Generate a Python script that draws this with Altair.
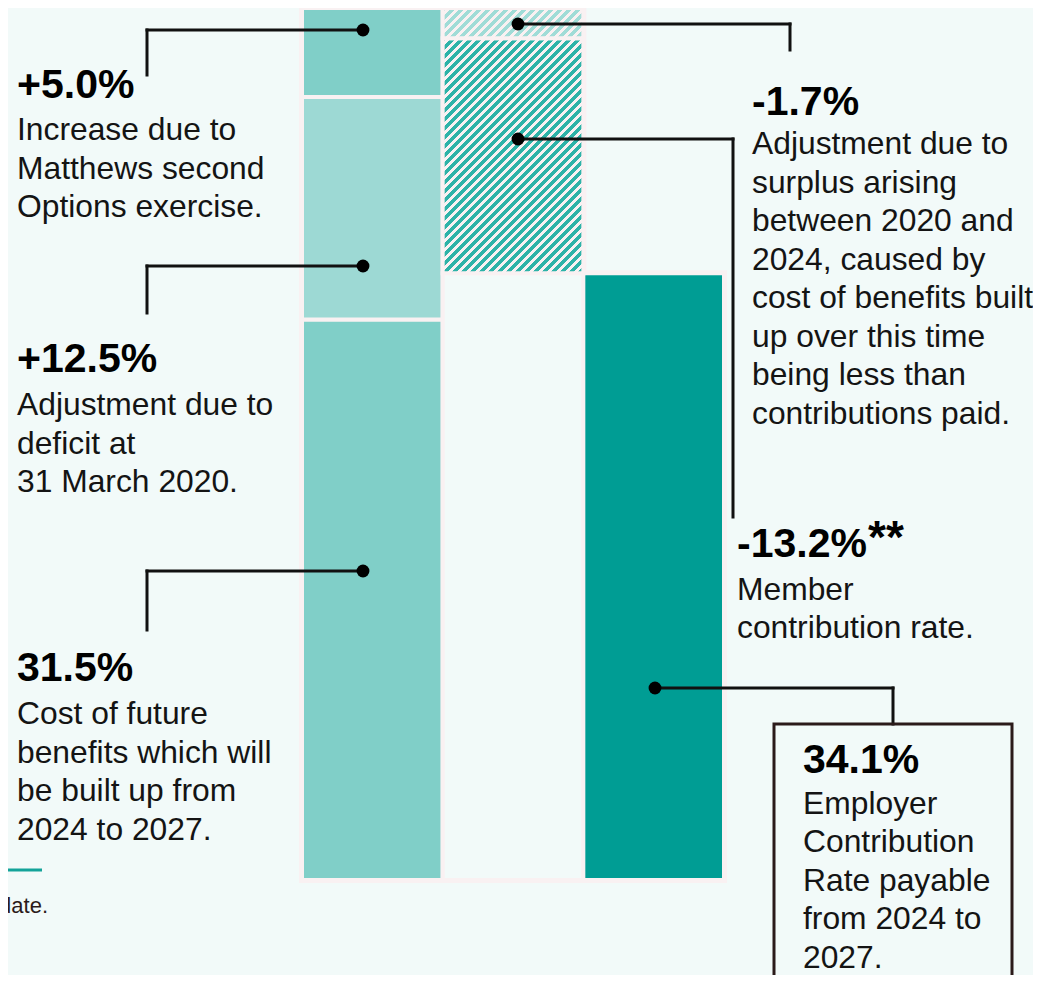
import altair as alt
import pandas as pd

# ---------------- data ----------------
columns = ["Build-up", "Adjustments", "Employer"]
build_values = [31.5, 12.5, 5.0]          # stacked upward in the first column
build_kinds = ["cost", "deficit", "matthews"]
adjust_values = [-1.7, -13.2]             # stepping down in the second column
adjust_kinds = ["surplus", "member"]
employer_value = 34.1

# ---------------- styles / layout ----------------
BG = "#f2faf9"
PANEL = "#f9f1f2"
FONT = "Liberation Sans, Arial, sans-serif"
W, H = 422, 872
PAD = {"left": 294, "top": 0, "right": 309, "bottom": 95}

rows = []
run = 0.0
for v, k in zip(build_values, build_kinds):
    rows.append({"column": columns[0], "y0": run, "y1": run + v, "kind": k})
    run += v
total = run
for v, k in zip(adjust_values, adjust_kinds):
    rows.append({"column": columns[1], "y0": run, "y1": run + v, "kind": k})
    run += v
rows.append({"column": columns[1], "y0": 0.0, "y1": run, "kind": "base"})
rows.append({"column": columns[2], "y0": 0.0, "y1": employer_value, "kind": "employer"})
bars = pd.DataFrame(rows)

px_per = H / total
band_w = W / len(columns)


def hatch(value, stripe, period=9.0, sw=4.6):
    w = band_w
    h = abs(value) * px_per
    L = w + h
    s = L / (w * w + h * h)
    stops = []
    k = 0
    while k * period < L:
        a = k * period / L
        b = min((k * period + sw) / L, 1.0)
        c = min((k + 1) * period / L, 1.0)
        stops += [(a, stripe), (b, stripe), (b, PANEL), (c, PANEL)]
        k += 1
    return alt.LinearGradient(
        gradient="linear",
        stops=[alt.GradientStop(offset=o, color=col) for o, col in stops],
        x1=0, y1=0, x2=s * w, y2=s * h,
    )


xenc = alt.X("column:N", scale=alt.Scale(domain=columns, paddingInner=0, paddingOuter=0), axis=None)
yenc = alt.Y("y0:Q", scale=alt.Scale(domain=[0, total], nice=False), axis=None)

base = alt.Chart(bars)

# pale outline behind each column (extends a little beyond the bars)
backing = base.transform_calculate(
    hi="max(datum.y0, datum.y1)"
).transform_aggregate(
    top="max(hi)", groupby=["column"]
).transform_calculate(zero="0").mark_bar(
    color=PANEL, stroke=PANEL, strokeWidth=6
).encode(
    x=xenc,
    y=alt.Y("zero:Q", scale=alt.Scale(domain=[0, total], nice=False), axis=None),
    y2="top:Q",
)

solid = base.transform_filter(
    alt.FieldOneOfPredicate(field="kind", oneOf=["cost", "deficit", "matthews", "base", "employer"])
).mark_bar(stroke=PANEL, strokeWidth=4).encode(
    x=xenc, y=yenc, y2="y1:Q",
    color=alt.Color("kind:N", legend=None, scale=alt.Scale(
        domain=["cost", "deficit", "matthews", "base", "employer"],
        range=["#80cfc8", "#9dd9d4", "#80cfc8", BG, "#009d94"])),
)

hatch_member = base.transform_filter(alt.datum.kind == "member").mark_bar(
    fill=hatch(adjust_values[1], "#2db3a8"), stroke=PANEL, strokeWidth=4
).encode(x=xenc, y=yenc, y2="y1:Q")

hatch_surplus = base.transform_filter(alt.datum.kind == "surplus").mark_bar(
    fill=hatch(adjust_values[0], "#a0dcd7"), stroke=PANEL, strokeWidth=4
).encode(x=xenc, y=yenc, y2="y1:Q")

# ---------------- annotations (pixel layout) ----------------
conn = pd.DataFrame([
    {"x": 61, "y": 22, "x2": -155, "y2": 22}, {"x": -155, "y": 22, "x2": -155, "y2": 67},
    {"x": 61, "y": 258, "x2": -155, "y2": 258}, {"x": -155, "y": 258, "x2": -155, "y2": 305},
    {"x": 61, "y": 563, "x2": -155, "y2": 563}, {"x": -155, "y": 563, "x2": -155, "y2": 622},
    {"x": 216, "y": 16, "x2": 488, "y2": 16}, {"x": 488, "y": 16, "x2": 488, "y2": 42},
    {"x": 216, "y": 131, "x2": 431, "y2": 131}, {"x": 431, "y": 131, "x2": 431, "y2": 509},
    {"x": 353, "y": 680, "x2": 591, "y2": 680}, {"x": 591, "y": 680, "x2": 591, "y2": 716},
])
connectors = alt.Chart(conn).mark_rule(color="#111111", strokeWidth=3, strokeCap="square").encode(
    x=alt.X("x:Q", scale=None), x2="x2:Q", y=alt.Y("y:Q", scale=None), y2="y2:Q"
)

dots_df = pd.DataFrame({"x": [61, 61, 61, 216, 216, 353], "y": [22, 258, 563, 16, 131, 680]})
dots = alt.Chart(dots_df).mark_circle(size=165, color="#000000", opacity=1).encode(
    x=alt.X("x:Q", scale=None), y=alt.Y("y:Q", scale=None)
)

bold_labels = ["+5.0%", "+12.5%", "31.5%", "-1.7%", "-13.2%", "34.1%"]
bold_x = [-285, -285, -285, 450, 435, 501]
bold_y = [90, 364, 673, 107, 549, 765]

body_blocks = [
    ["Increase due to", "Matthews second", "Options exercise."],
    ["Adjustment due to", "deficit at", "31 March 2020."],
    ["Cost of future", "benefits which will", "be built up from", "2024 to 2027."],
    ["Adjustment due to", "surplus arising", "between 2020 and", "2024, caused by",
     "cost of benefits built", "up over this time", "being less than", "contributions paid."],
    ["Member", "contribution rate."],
    ["Employer", "Contribution", "Rate payable", "from 2024 to", "2027."],
]
body_first_y = [132, 407, 716, 146, 591.5, 805.5]
LINE = 38.5

body_rows = []
for blk, bx, by in zip(body_blocks, bold_x, body_first_y):
    for i, line in enumerate(blk):
        body_rows.append({"x": bx, "y": by + i * LINE, "t": line})
body_df = pd.DataFrame(body_rows)
bold_df = pd.DataFrame({"x": bold_x, "y": bold_y, "t": bold_labels})

bold_text = alt.Chart(bold_df).mark_text(
    align="left", baseline="alphabetic", font=FONT, fontSize=41, fontWeight="bold", color="#000000"
).encode(x=alt.X("x:Q", scale=None), y=alt.Y("y:Q", scale=None), text="t:N")

body_text = alt.Chart(body_df).mark_text(
    align="left", baseline="alphabetic", font=FONT, fontSize=31.8, color="#141414"
).encode(x=alt.X("x:Q", scale=None), y=alt.Y("y:Q", scale=None), text="t:N")

stars = alt.Chart(pd.DataFrame({"x": [566], "y": [545], "t": ["**"]})).mark_text(
    align="left", baseline="alphabetic", font=FONT, fontSize=46, fontWeight="bold", color="#000000"
).encode(x=alt.X("x:Q", scale=None), y=alt.Y("y:Q", scale=None), text="t:N")

box = alt.Chart(pd.DataFrame({"a": [0]})).mark_rect(
    fillOpacity=0, stroke="#2b1a1a", strokeWidth=3
).encode(x=alt.value(472), x2=alt.value(710), y=alt.value(716), y2=alt.value(1100))

teal_line = alt.Chart(pd.DataFrame({"a": [0]})).mark_rule(color="#14a39a", strokeWidth=3).encode(
    x=alt.value(-310), x2=alt.value(-260), y=alt.value(862)
)
foot = alt.Chart(pd.DataFrame({"x": [-254], "y": [905], "t": ["date."]})).mark_text(
    align="right", baseline="alphabetic", font=FONT, fontSize=22, color="#2b1a1a"
).encode(x=alt.X("x:Q", scale=None), y=alt.Y("y:Q", scale=None), text="t:N")

chart = alt.layer(
    backing, solid, hatch_member, hatch_surplus, connectors, dots,
    bold_text, body_text, stars, box, teal_line, foot
).properties(
    width=W, height=H, padding=PAD,
    autosize=alt.AutoSizeParams(type="none"),
    background=BG,
).configure_view(stroke=None)

chart.save("out.html", embed_options={"renderer": "svg", "actions": False})
